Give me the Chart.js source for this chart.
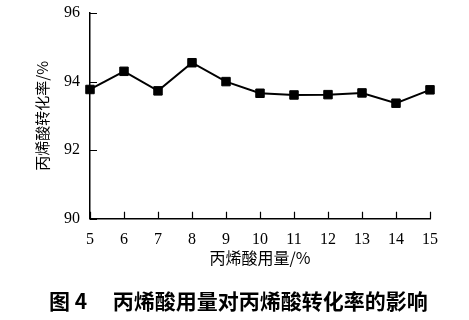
<!DOCTYPE html>
<html>
<head>
<meta charset="utf-8">
<script src="https://cdn.jsdelivr.net/npm/chart.js@4/dist/chart.umd.min.js"></script>
<style>
  html, body { margin: 0; padding: 0; background: #fff; }
  #wrap { width: 469px; height: 320px; }
</style>
</head>
<body>
<div id="wrap"><canvas id="lineChart" width="469" height="320"></canvas></div>
<script>
// data
const dosage = [5, 6, 7, 8, 9, 10, 11, 12, 13, 14, 15];
const conversion = [93.77, 94.30, 93.73, 94.55, 94.00, 93.66, 93.61, 93.62, 93.67, 93.37, 93.76];
const yTicks = [90, 92, 94, 96];

const serif = '"Liberation Serif", "DejaVu Serif", serif';
const cjk = '"Noto Sans CJK SC", sans-serif';

// small tick marks drawn inward from the axes
const innerTicks = {
    id: 'innerTicks',
    afterDraw(chart) {
        const c = chart.ctx;
        const x = chart.scales.x, y = chart.scales.y;
        c.save();
        c.strokeStyle = '#000';
        c.lineWidth = 1.2;
        c.beginPath();
        dosage.forEach(v => {
            const px = Math.round(x.getPixelForValue(v)) + 0.5;
            c.moveTo(px, y.bottom);
            c.lineTo(px, y.bottom - 7);
        });
        yTicks.forEach(v => {
            const py = Math.round(y.getPixelForValue(v)) + 0.5;
            c.moveTo(x.left, py);
            c.lineTo(x.left + 7, py);
        });
        c.stroke();
        c.restore();
    }
};

const ctx = document.getElementById('lineChart').getContext('2d');
const lineChart = new Chart(ctx, {
    type: 'line',
    data: {
        datasets: [{
            data: dosage.map((v, i) => ({ x: v, y: conversion[i] })),
            borderColor: '#000',
            backgroundColor: '#000',
            borderWidth: 2,
            pointStyle: 'rect',
            pointRadius: 6,
            pointBorderWidth: 1,
            tension: 0,
            clip: false
        }]
    },
    options: {
        responsive: false,
        animation: false,
        layout: { padding: { top: 13, right: 39, left: 0, bottom: 0 } },
        plugins: {
            legend: { display: false },
            tooltip: { enabled: false },
            title: {
                display: true,
                position: 'bottom',
                // leading spaces push the caption right, the box ends at the right padding
                text: '　　 图 4 　丙烯酸用量对丙烯酸转化率的影响',
                color: '#000',
                font: { family: cjk, size: 21, weight: 'bold' },
                padding: { top: 20, bottom: 6 }
            }
        },
        scales: {
            x: {
                type: 'linear',
                min: 5,
                max: 15,
                ticks: {
                    stepSize: 1,
                    color: '#000',
                    padding: 11,
                    font: { family: serif, size: 16 }
                },
                grid: { drawOnChartArea: false, drawTicks: false },
                border: { color: '#000', width: 1.5 },
                title: {
                    display: true,
                    text: '丙烯酸用量/%',
                    color: '#000',
                    font: { family: cjk, size: 16 },
                    padding: { top: 0, bottom: 1 }
                },
                afterFit(scale) { scale.height = 50; }
            },
            y: {
                min: 90,
                max: 96,
                ticks: {
                    stepSize: 2,
                    color: '#000',
                    padding: 10,
                    font: { family: serif, size: 16 }
                },
                grid: { drawOnChartArea: false, drawTicks: false },
                border: { color: '#000', width: 1.5 },
                title: {
                    display: true,
                    text: '丙烯酸转化率/%',
                    color: '#000',
                    font: { family: cjk, size: 15 },
                    padding: { top: 33, bottom: 0 }
                },
                afterFit(scale) {
                    scale.width = 90;
                    scale.paddingTop = 0;
                }
            }
        }
    },
    plugins: [innerTicks]
});
</script>
</body>
</html>
